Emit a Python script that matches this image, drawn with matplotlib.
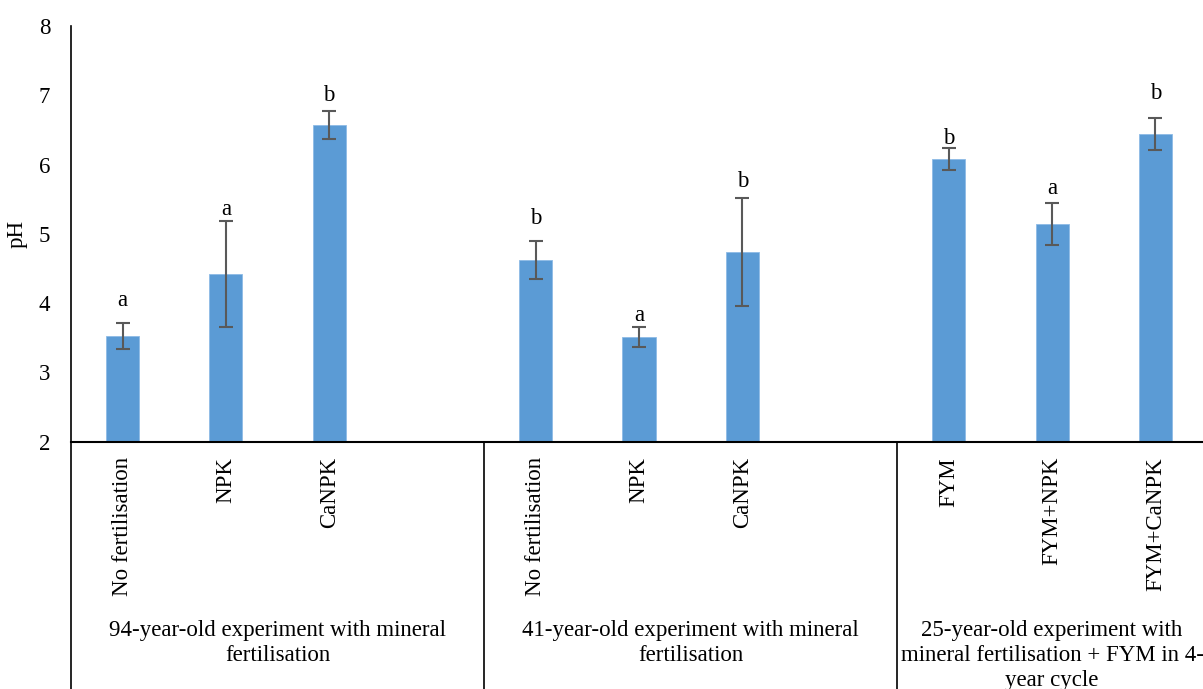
import matplotlib
matplotlib.use("Agg")
import matplotlib.pyplot as plt
import numpy as np

# Data
categories = ["No fertilisation", "NPK", "CaNPK", "",
              "No fertilisation", "NPK", "CaNPK", "",
              "FYM", "FYM+NPK", "FYM+CaNPK"]
values = [3.53, 4.42, 6.57, np.nan,
          4.62, 3.51, 4.74, np.nan,
          6.08, 5.14, 6.44]
errors = [0.19, 0.77, 0.20, np.nan,
          0.27, 0.14, 0.78, np.nan,
          0.16, 0.30, 0.23]
letters = ["a", "a", "b", "",
           "b", "a", "b", "",
           "b", "a", "b"]
group_labels = ["94-year-old experiment with mineral\nfertilisation",
                "41-year-old experiment with mineral\nfertilisation",
                "25-year-old experiment with\nmineral fertilisation + FYM in 4-\nyear cycle"]
group_spans = [(0, 3), (4, 7), (8, 10)]
y_ticks = [2, 3, 4, 5, 6, 7, 8]

# style: gap (points) between error bar top and letter baseline
letter_gaps = [12, 4, 7, 0, 12.5, 4.5, 7.5, 0, 2.5, 6.5, 13.5]

plt.rcParams['font.family'] = ['Liberation Serif', 'DejaVu Serif']
FS = 16.5

W, H = 1203, 689
fig = plt.figure(figsize=(W / 100, H / 100), dpi=100)
left_px, right_px, top_px, bottom_px = 71, 1207, 26, 441.7
ax = fig.add_axes([left_px / W, 1 - bottom_px / H,
                   (right_px - left_px) / W, (bottom_px - top_px) / H])

x = np.arange(len(categories))
ax.bar(x, values, width=0.32, color="#5B9BD5", edgecolor="#8DBBE6", linewidth=0.6, zorder=2)
ax.errorbar(x, values, yerr=errors, fmt="none", ecolor="#595959",
            elinewidth=1.5, capsize=5, capthick=1.5, zorder=3)

for xi, v, e, l, g in zip(x, values, errors, letters, letter_gaps):
    if l:
        ax.annotate(l, (xi, v + e), xytext=(0, g), textcoords="offset points",
                    ha="center", va="baseline", fontsize=FS)

ax.set_xlim(-0.5, len(categories) - 0.5)
ax.set_ylim(2, 8)
ax.set_yticks(y_ticks)
ax.set_yticklabels([str(t) for t in y_ticks], fontsize=FS)
ax.tick_params(axis="y", length=0, pad=15)
ax.set_xticks(x)
ax.set_xticklabels(categories, rotation=90, fontsize=FS, va="top", ha="center")
ax.tick_params(axis="x", length=0, pad=11)
ax.set_ylabel("pH", fontsize=FS)
ax.yaxis.set_label_coords(-0.038, 0.5)

for s in ["top", "right"]:
    ax.spines[s].set_visible(False)
ax.spines["left"].set_linewidth(1.2)
ax.spines["bottom"].set_linewidth(1.5)

# category dividers
trans = ax.get_xaxis_transform()
for xd in [-0.5, 3.5, 7.5]:
    ax.plot([xd, xd], [0, -0.6], transform=trans, color="black", lw=1.2, clip_on=False)

# group labels
for (a, b), lab in zip(group_spans, group_labels):
    cx = (a + b) / 2
    ax.text(cx, -0.43, lab, transform=trans, ha="center", va="top",
            fontsize=FS, linespacing=1.25, clip_on=False)

fig.savefig("out.png", dpi=100)
